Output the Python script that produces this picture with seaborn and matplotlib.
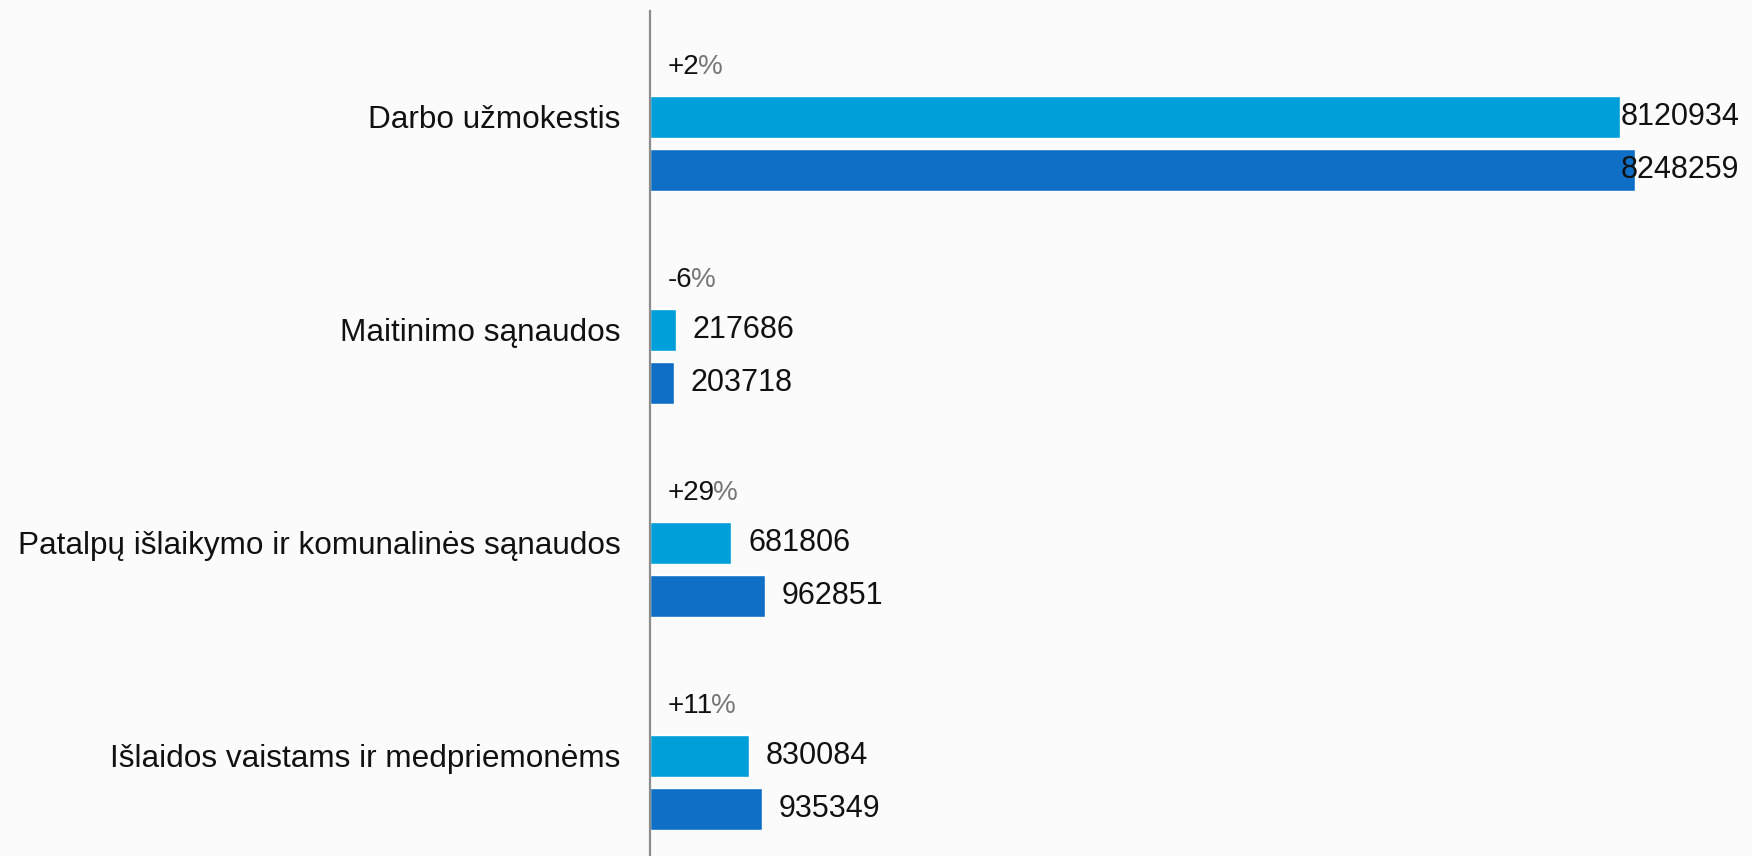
import numpy as np
import pandas as pd
import matplotlib
matplotlib.use("Agg")
import matplotlib.pyplot as plt
import seaborn as sns

# ─── Data ──────────────────────────────────────────────────────────────────────
categories = [
    "Darbo užmokestis",
    "Maitinimo sąnaudos",
    "Patalpų išlaikymo ir komunalinės sąnaudos",
    "Išlaidos vaistams ir medpriemonėms",
]
series_names = ["Ankstesni metai", "Einamieji metai"]
values_prev = [8120934, 217686, 681806, 830084]
values_curr = [8248259, 203718, 962851, 935349]
change_labels = ["+2", "-6", "+29", "+11"]

COLORS = ["#009FD9", "#0F6FC6"]
FONT = ["Liberation Sans", "DejaVu Sans"]

df = pd.DataFrame({
    "category": categories * 2,
    "series":   [series_names[0]] * len(categories) + [series_names[1]] * len(categories),
    "value":    values_prev + values_curr,
})

# ─── Figure ────────────────────────────────────────────────────────────────────
sns.set_style("white")
plt.rcParams["font.family"] = FONT

W, H, DPI = 1752, 856, 100
fig = plt.figure(figsize=(W / DPI, H / DPI), dpi=DPI, facecolor="#fbfbfb")
ax = fig.add_axes([650 / W, 0, 1 - 650 / W, 1 - 11 / H])
ax.set_facecolor("#fbfbfb")

sns.barplot(data=df, y="category", x="value", hue="series", orient="h",
            palette=COLORS, width=0.5, gap=0.2, legend=False, ax=ax,
            saturation=1)

ax.set_xlim(0, 9.23e6)
ax.set_ylim(3.345, -0.622)
ax.set_xticks([])
ax.set_xlabel("")
ax.set_ylabel("")
ax.set_yticks(np.arange(len(categories)) - 0.125, categories)
ax.tick_params(axis="y", length=0, pad=21, labelsize=22.7, labelcolor="#111111")

for side in ["top", "right", "bottom"]:
    ax.spines[side].set_visible(False)
ax.spines["left"].set_color("#8c8c8c")
ax.spines["left"].set_linewidth(1.6)

# ── value labels ──
value_texts = []
for container in ax.containers:
    for bar in container:
        w = bar.get_width()
        yc = bar.get_y() + bar.get_height() / 2
        t = ax.annotate(f"{int(round(w))}", xy=(w, yc), xytext=(12, 0),
                        textcoords="offset points", va="center", ha="left",
                        fontsize=22, color="#111111")
        value_texts.append(t)

fig.canvas.draw()
renderer = fig.canvas.get_renderer()
for t in value_texts:
    bb = t.get_window_extent(renderer)
    if bb.x1 > W - 9:
        # keep it inside the picture, right aligned to the edge
        t.set_ha("right")
        t.xy = (1, t.xy[1])
        t.xycoords = ("axes fraction", "data")
        t.set_position((-9, 0))

# ── change labels (+x%) ──
for i, lab in enumerate(change_labels):
    t = ax.annotate(lab, xy=(0, i - 0.36), xytext=(13, 0),
                    textcoords="offset points", va="center", ha="left",
                    fontsize=20, color="#111111")
    ax.annotate("%", xy=(1, 0), xycoords=t, xytext=(-1.5, 0),
                textcoords="offset points", va="bottom", ha="left",
                fontsize=20, color="#777777", fontweight="light")

fig.savefig("out.png", dpi=DPI, facecolor=fig.get_facecolor())
